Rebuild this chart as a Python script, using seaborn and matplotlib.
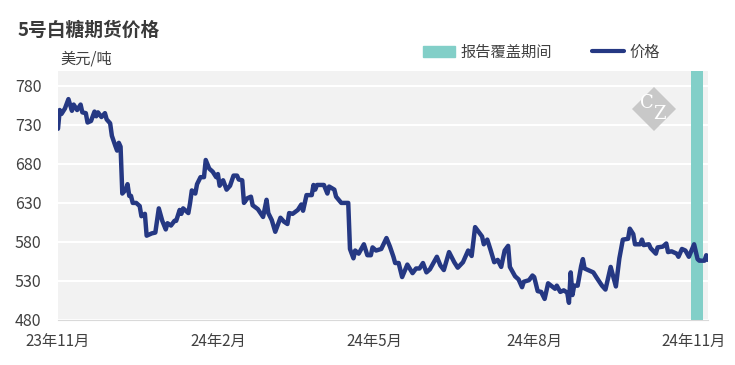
import pandas as pd
import numpy as np
import seaborn as sns
import matplotlib.pyplot as plt
from matplotlib.patches import Patch, Polygon
from matplotlib.lines import Line2D

# daily price readings (USD/t)
dates = [
    "2023-11-01", "2023-11-02", "2023-11-03", "2023-11-05", "2023-11-07", "2023-11-09", "2023-11-10",
    "2023-11-12", "2023-11-14", "2023-11-15", "2023-11-17", "2023-11-18", "2023-11-20", "2023-11-22",
    "2023-11-23", "2023-11-24", "2023-11-26", "2023-11-28", "2023-11-29", "2023-12-01", "2023-12-02",
    "2023-12-04", "2023-12-05", "2023-12-06", "2023-12-07", "2023-12-08", "2023-12-10", "2023-12-11",
    "2023-12-12", "2023-12-13", "2023-12-14", "2023-12-16", "2023-12-18", "2023-12-19", "2023-12-21",
    "2023-12-22", "2023-12-25", "2023-12-27", "2023-12-29", "2023-12-31", "2024-01-02", "2024-01-03",
    "2024-01-05", "2024-01-07", "2024-01-08", "2024-01-10", "2024-01-11", "2024-01-12", "2024-01-15",
    "2024-01-16", "2024-01-17", "2024-01-19", "2024-01-20", "2024-01-22", "2024-01-24", "2024-01-25",
    "2024-01-27", "2024-01-29", "2024-01-31", "2024-02-01", "2024-02-02", "2024-02-04", "2024-02-06",
    "2024-02-08", "2024-02-10", "2024-02-12", "2024-02-13", "2024-02-15", "2024-02-16", "2024-02-18",
    "2024-02-20", "2024-02-21", "2024-02-24", "2024-02-27", "2024-02-29", "2024-03-01", "2024-03-03",
    "2024-03-05", "2024-03-08", "2024-03-10", "2024-03-12", "2024-03-13", "2024-03-15", "2024-03-18",
    "2024-03-20", "2024-03-21", "2024-03-23", "2024-03-26", "2024-03-27", "2024-03-28", "2024-03-29",
    "2024-04-02", "2024-04-04", "2024-04-05", "2024-04-08", "2024-04-09", "2024-04-12", "2024-04-14",
    "2024-04-16", "2024-04-17", "2024-04-19", "2024-04-20", "2024-04-22", "2024-04-25", "2024-04-27",
    "2024-04-29", "2024-04-30", "2024-05-02", "2024-05-05", "2024-05-08", "2024-05-10", "2024-05-12",
    "2024-05-13", "2024-05-15", "2024-05-17", "2024-05-20", "2024-05-23", "2024-05-25", "2024-05-27",
    "2024-05-29", "2024-05-31", "2024-06-02", "2024-06-06", "2024-06-08", "2024-06-10", "2024-06-13",
    "2024-06-16", "2024-06-18", "2024-06-21", "2024-06-24", "2024-06-26", "2024-06-28", "2024-07-02",
    "2024-07-03", "2024-07-05", "2024-07-07", "2024-07-09", "2024-07-11", "2024-07-13", "2024-07-15",
    "2024-07-17", "2024-07-18", "2024-07-21", "2024-07-23", "2024-07-25", "2024-07-26", "2024-07-29",
    "2024-07-31", "2024-08-01", "2024-08-03", "2024-08-05", "2024-08-07", "2024-08-09", "2024-08-13",
    "2024-08-14", "2024-08-16", "2024-08-18", "2024-08-20", "2024-08-21", "2024-08-22", "2024-08-23",
    "2024-08-24", "2024-08-26", "2024-08-28", "2024-08-29", "2024-08-30", "2024-09-02", "2024-09-04",
    "2024-09-06", "2024-09-09", "2024-09-11", "2024-09-14", "2024-09-17", "2024-09-19", "2024-09-21",
    "2024-09-24", "2024-09-25", "2024-09-27", "2024-09-28", "2024-10-01", "2024-10-02", "2024-10-03",
    "2024-10-06", "2024-10-07", "2024-10-10", "2024-10-11", "2024-10-14", "2024-10-16", "2024-10-17",
    "2024-10-19", "2024-10-22", "2024-10-23", "2024-10-25", "2024-10-27", "2024-10-29", "2024-11-01",
    "2024-11-03", "2024-11-04", "2024-11-07", "2024-11-08", "2024-11-09",
]
prices = [
    725, 749, 744, 751, 763, 748, 756,
    749, 756, 746, 745, 733, 735, 747,
    741, 746, 740, 745, 737, 732, 716,
    703, 697, 707, 702, 642, 647, 654,
    639, 639, 630, 630, 626, 613, 616,
    588, 591, 592, 623, 607, 596, 604,
    601, 607, 607, 621, 616, 623, 617,
    630, 646, 642, 654, 663, 663, 685,
    674, 670, 663, 667, 652, 659, 647,
    652, 665, 665, 660, 659, 630, 636,
    638, 627, 622, 612, 634, 617, 608,
    593, 611, 606, 603, 617, 616, 621,
    628, 620, 640, 640, 653, 647, 653,
    653, 642, 651, 647, 638, 630, 630,
    630, 571, 559, 569, 565, 577, 563,
    563, 573, 569, 571, 585, 574, 561,
    553, 553, 535, 551, 540, 546, 546,
    553, 541, 545, 561, 550, 544, 567,
    554, 547, 554, 569, 562, 599, 587,
    577, 583, 569, 554, 557, 548, 569,
    575, 548, 536, 532, 522, 529, 531,
    537, 535, 517, 516, 507, 527, 520,
    524, 516, 518, 515, 502, 541, 512,
    524, 524, 549, 558, 546, 543, 541,
    534, 524, 519, 548, 523, 559, 583,
    584, 597, 590, 577, 577, 583, 576,
    577, 572, 565, 573, 574, 578, 567,
    568, 565, 561, 571, 569, 561, 577,
    558, 556, 556, 563, 557,
]

band_start, band_end = "2024-10-30", "2024-11-06"
xtick_dates = ["2023-11-01", "2024-02-01", "2024-05-01", "2024-08-01", "2024-11-01"]
xtick_labels = ["23年11月", "24年2月", "24年5月", "24年8月", "24年11月"]
yticks = [480, 530, 580, 630, 680, 730, 780]

line_color = "#253883"
band_color = "#82cfc8"
text_color = "#404040"

sns.set_style("white")
plt.rcParams['font.family'] = ['Noto Sans CJK SC', 'DejaVu Sans']

df = pd.DataFrame({"date": pd.to_datetime(dates), "price": prices})

W, H = 735, 365
fig = plt.figure(figsize=(W / 100, H / 100), dpi=100)
ax = fig.add_axes([58 / W, 1 - 320 / H, 650 / W, 249 / H])
ax.set_facecolor("#f2f2f2")

ax.axvspan(pd.Timestamp(band_start), pd.Timestamp(band_end), color=band_color, lw=0, zorder=1)
sns.lineplot(data=df, x="date", y="price", ax=ax, color=line_color, lw=3.2, zorder=3)

ax.set_xlim(pd.Timestamp("2023-11-01"), pd.Timestamp("2024-11-09"))
ax.set_ylim(480, 799)
ax.set_yticks(yticks)
ax.set_xticks(pd.to_datetime(xtick_dates))
ax.set_xticklabels(xtick_labels)
ax.set_xlabel("")
ax.set_ylabel("")

ax.grid(axis="y", color="white", lw=1.5)
ax.grid(axis="x", visible=False)
ax.set_axisbelow(True)
for s in ["top", "right", "left"]:
    ax.spines[s].set_visible(False)
ax.spines["bottom"].set_color("#d9d9d9")
ax.tick_params(axis="y", length=0, pad=12, labelsize=11.5, labelcolor=text_color)
ax.tick_params(axis="x", length=4, width=1, color="#d9d9d9", pad=5, labelsize=11, labelcolor=text_color)

fig.text(18 / W, 1 - 30 / H, "5号白糖期货价格", fontsize=13.5, fontweight="bold", va="center", color="#3a3a3a")
fig.text(60 / W, 1 - 59 / H, "美元/吨", fontsize=11, va="center", color=text_color)

handles = [Patch(color=band_color), Line2D([], [], color=line_color, lw=3)]
fig.legend(handles, ["报告覆盖期间", "价格"], loc="center left", bbox_to_anchor=(423 / W, 1 - 52 / H),
           ncol=2, frameon=False, fontsize=11, handlelength=2.1, handletextpad=0.35,
           columnspacing=2.6, borderpad=0, borderaxespad=0, labelcolor=text_color)

# watermark logo
cx, cy, r = 654, 109, 22
diamond = Polygon([((cx - r) / W, 1 - cy / H), (cx / W, 1 - (cy - r) / H),
                   ((cx + r) / W, 1 - cy / H), (cx / W, 1 - (cy + r) / H)],
                  closed=True, transform=fig.transFigure, facecolor="#c8c8c8", edgecolor="none")
fig.add_artist(diamond)
fig.text(647 / W, 1 - 103 / H, "C", fontsize=13, family="DejaVu Serif", color="white", ha="center", va="center")
fig.text(659 / W, 1 - 114 / H, "Z", fontsize=13, family="DejaVu Serif", color="white", ha="center", va="center")

fig.savefig("out.png", dpi=100)
